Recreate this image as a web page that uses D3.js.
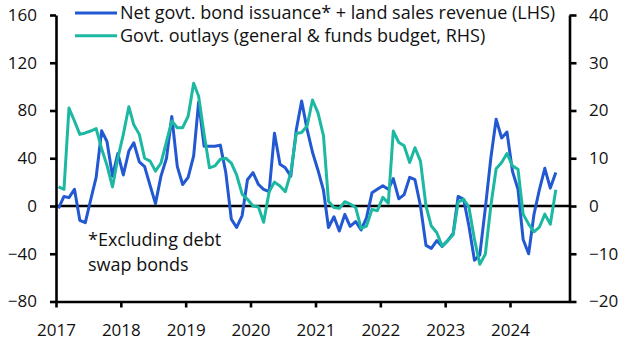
<!DOCTYPE html>
<html>
<head>
<meta charset="utf-8">
<script src="https://cdn.jsdelivr.net/npm/d3@7"></script>
<style>
  body { margin: 0; background: #fff; }
  svg { display: block; font-family: "Open Sans", "Noto Sans", sans-serif; }
</style>
</head>
<body>
<svg id="grafico" width="629" height="351"></svg>
<script>
// monthly data, Jan 2017 - Sep 2024
const startMonth = new Date(2017, 0, 1);
const endMonth = new Date(2024, 9, 1);

// net govt. bond issuance + land sales revenue (LHS)
const issuance = [
  -2, 8, 7, 14, -12, -14, 5, 24, 63, 54,
  25, 44, 26, 46, 53, 37, 33, 17, 2, 25,
  40, 75, 33, 18, 24, 42, 87, 50, 50, 50,
  51, 28, -11, -18, -8, 22, 28, 18, 14, 12,
  61, 35, 32, 25, 64, 88, 64, 45, 30, 13,
  -18, -9, -21, -7, -17, -13, -20, -10, 11, 14,
  17, 14, 23, 6, 9.5, 24, 22, 0, -33, -35.5,
  -29, -34, -29, -23, 8, 5.6, -17, -45.5, -41, -2,
  40, 72.7, 57, 62, 29, 14, -28, -40, -7, 14,
  31.6, 15, 28
];

// govt. outlays, general & funds budget (RHS)
const outlays = [
  4, 3.5, 20.5, 17.8, 15, 15.3, 15.7, 16.2, 12, 8.5,
  4, 10, 15, 20.8, 17, 15, 10, 9.4, 7.3, 9,
  13.5, 17.8, 16.4, 16.4, 18.8, 25.7, 23, 15, 8, 8.4,
  9.8, 10, 9, 6.5, 2.5, 1.4, 0, -0.2, -3.4, 3,
  5, 4.2, 3, 7, 15.2, 15.4, 16.8, 22.2, 19.5, 14.7,
  1, -0.3, -0.5, 0.9, 0.4, -0.3, -4.7, -4.2, -0.7, -1,
  1.8, 0.6, 15.7, 13.3, 12.6, 9.1, 12.2, 9.4, 0, -4.2,
  -5.6, -8.4, -7.3, -6, 0.8, 1.4, -0.3, -7, -12.2, -10.1,
  0, 7.8, 9.1, 11, 8.4, 7.7, -1.7, -3.8, -5.4, -4.4,
  -1.7, -3.8, 3.4
];

const yearTicks = [2017, 2018, 2019, 2020, 2021, 2022, 2023, 2024];
const leftTicks = [-80, -40, 0, 40, 80, 120, 160];
const rightTicks = [-20, -10, 0, 10, 20, 30, 40];
const seriesNames = [
  "Net govt. bond issuance* + land sales revenue (LHS)",
  "Govt. outlays (general & funds budget, RHS)"
];
const footnote = ["*Excluding debt", "swap bonds"];

const colors = ["#2258d2", "#1db8a2"];
const margin = {top: 15, right: 59.5, bottom: 49.5, left: 56};
const width = 629, height = 351;
const fontSize = 17;
const labelSize = 18;
const axisWidth = 2.6;

let svg = d3.select("#grafico");
let gw = width - margin.left - margin.right;
let gh = height - margin.top - margin.bottom;
let g = svg.append("g").attr("transform", "translate(" + margin.left + "," + margin.top + ")");

let months = d3.timeMonth.range(startMonth, d3.timeMonth.offset(endMonth, 1));

let x = d3.scaleTime()
  .domain([new Date(2017, 0, 1), new Date(2024, 11, 1)])
  .range([0, gw]);
let yL = d3.scaleLinear().domain([-80, 160]).range([gh, 0]);
let yR = d3.scaleLinear().domain([-20, 40]).range([gh, 0]);

// points sit mid-month
let xm = function(i) { return x(d3.timeDay.offset(months[i], 14)); };

// zero line
g.append("line")
  .attr("x1", 0).attr("x2", gw)
  .attr("y1", yL(0)).attr("y2", yL(0))
  .attr("stroke", "#000").attr("stroke-width", axisWidth);

// series
let lineL = d3.line().x(function(d, i) { return xm(i); }).y(function(d) { return yL(d); });
let lineR = d3.line().x(function(d, i) { return xm(i); }).y(function(d) { return yR(d); });

g.append("path").attr("d", lineL(issuance))
  .attr("fill", "none").attr("stroke", colors[0]).attr("stroke-width", 3)
  .attr("stroke-linejoin", "round");
g.append("path").attr("d", lineR(outlays))
  .attr("fill", "none").attr("stroke", colors[1]).attr("stroke-width", 3)
  .attr("stroke-linejoin", "round");

// axes
function estilo(sel) {
  sel.selectAll("path.domain").attr("stroke", "#000").attr("stroke-width", axisWidth);
  sel.selectAll(".tick line").attr("stroke", "#000").attr("stroke-width", axisWidth);
  sel.selectAll("text").attr("fill", "#111").style("font-size", fontSize + "px");
  sel.attr("font-family", null);
}

g.append("g")
  .call(d3.axisLeft(yL).tickValues(leftTicks).tickSize(6).tickSizeOuter(0).tickPadding(13))
  .call(estilo);

g.append("g")
  .attr("transform", "translate(" + gw + ",0)")
  .call(d3.axisRight(yR).tickValues(rightTicks).tickSize(7).tickSizeOuter(0).tickPadding(12.5))
  .call(estilo);

g.append("g")
  .attr("transform", "translate(0," + gh + ")")
  .call(d3.axisBottom(x)
    .tickValues(yearTicks.map(function(y) { return new Date(y, 0, 1); }))
    .tickFormat(d3.timeFormat("%Y"))
    .tickSize(6).tickSizeOuter(0).tickPadding(16.4))
  .call(estilo);

// legend
seriesNames.forEach(function(name, s) {
  let ly = 13 + s * 22.7;
  svg.append("line")
    .attr("x1", 75).attr("x2", 117)
    .attr("y1", ly).attr("y2", ly)
    .attr("stroke", colors[s]).attr("stroke-width", 3);
  svg.append("text")
    .attr("x", 120).attr("y", ly + 6.4)
    .style("font-size", labelSize + "px")
    .attr("fill", "#111")
    .text(name);
});

// footnote
footnote.forEach(function(t, i) {
  svg.append("text")
    .attr("x", 88).attr("y", 246 + i * 25)
    .style("font-size", labelSize + "px")
    .attr("fill", "#111")
    .text(t);
});
</script>
</body>
</html>
